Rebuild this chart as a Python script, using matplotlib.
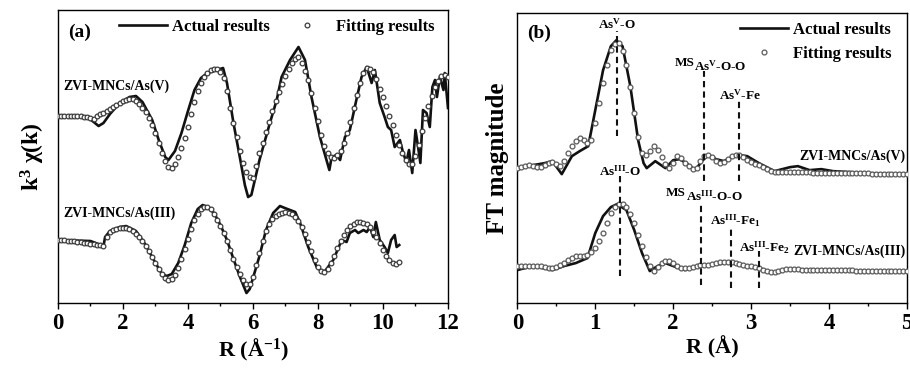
import numpy as np
import matplotlib.pyplot as plt
from matplotlib.lines import Line2D

plt.rcParams['font.family'] = ['Liberation Serif', 'DejaVu Serif']
plt.rcParams['font.weight'] = 'bold'
plt.rcParams['axes.labelweight'] = 'bold'
plt.rcParams['mathtext.fontset'] = 'custom'
plt.rcParams['mathtext.rm'] = 'Liberation Serif:bold'
plt.rcParams['mathtext.it'] = 'Liberation Serif:bold'
plt.rcParams['mathtext.bf'] = 'Liberation Serif:bold'

# ---------------- (a) k-space, arbitrary units ----------------
k_act_v = [0, 0.9, 1.1, 1.25, 1.4, 1.6, 1.9, 2.2, 2.4, 2.6, 2.9, 3.1, 3.3, 3.4, 3.6, 3.8, 4.0, 4.2,
           4.4, 4.6, 4.8, 5.08, 5.2, 5.4, 5.6, 5.75, 5.85, 5.95, 6.2, 6.52, 6.73, 6.88, 7.14, 7.4,
           7.6, 7.8, 8.06, 8.2, 8.35, 8.42, 8.58, 8.68, 8.83, 8.98, 9.18, 9.34, 9.5, 9.65, 9.75,
           9.9, 10.05, 10.15, 10.25, 10.36, 10.52, 10.62, 10.72, 10.8, 10.9, 11.0, 11.08, 11.15,
           11.23, 11.34, 11.44, 11.52, 11.6, 11.66, 11.75, 11.86, 11.9, 12.0]
chi_act_v = [187, 186, 181, 177, 180, 189, 200, 206, 207, 201, 183, 163, 146, 143, 152, 170, 192, 213,
             225, 230, 232, 235, 220, 180, 145, 118, 106, 108, 143, 180, 203, 226, 243, 256,
             243, 206, 166, 150, 133, 146, 148, 143, 166, 173, 203, 226, 236, 220, 233,
             200, 186, 176, 173, 156, 163, 150, 141, 153, 130, 173, 156, 140,
             193, 190, 176, 216, 223, 206, 226, 213, 230, 195]

# fitting, k = 0 ... 12 step 0.1
chi_fit_v = [187, 187, 187, 187, 187, 187, 187, 187, 186, 186,
             185, 184, 187, 189, 190, 192, 194, 196, 198, 200,
             202, 203, 204, 204, 202, 199, 195, 191, 185, 178,
             170, 160, 150, 142, 136, 135, 139, 146, 155, 165,
             176, 189, 201, 212, 220, 226, 230, 233, 234, 234,
             231, 225, 212, 195, 180, 166, 152, 140, 131, 126,
             125, 137, 150, 160, 171, 181, 192, 202, 211, 219,
             227, 234, 240, 244, 246, 240, 232, 223, 210, 195,
             182, 168, 157, 150, 146, 145, 148, 152, 160, 170,
             181, 195, 208, 220, 230, 235, 234, 231, 224, 214,
             206, 197, 187, 178, 168, 158, 150, 143, 139, 139,
             147, 158, 172, 185, 197, 207, 216, 222, 227, 228, 226]

k_act_3 = [0, 1.0, 1.4, 1.45, 1.6, 1.9, 2.1, 2.4, 2.7, 3.0, 3.2, 3.35, 3.5, 3.7, 3.9, 4.1, 4.3, 4.45,
           4.6, 4.8, 5.0, 5.2, 5.4, 5.6, 5.8, 5.9, 6.2, 6.4, 6.62, 6.83, 6.98, 7.14, 7.3, 7.45, 7.7,
           7.96, 8.17, 8.47, 8.73, 8.88, 8.98, 9.14, 9.24, 9.4, 9.5, 9.6, 9.7, 9.78, 9.9, 10.05,
           10.15, 10.25, 10.36, 10.42, 10.5]
chi_act_3 = [63, 62, 57, 66, 72, 76, 77, 72, 58, 40, 29, 27, 29, 40, 58, 80, 94, 98,
             96, 90, 78, 63, 44, 26, 10, 14, 47, 73, 90, 97, 95, 93, 91, 80, 56,
             36, 30, 43, 63, 61, 70, 73, 70, 73, 71, 76, 66, 81, 63, 56,
             50, 63, 68, 56, 58]

# fitting, k = 0 ... 10.5 step 0.1
chi_fit_3 = [63, 63, 63, 62, 62, 62, 61, 61, 60, 60,
             59, 59, 58, 58, 57, 66, 71, 73, 74, 75,
             75, 75, 74, 72, 69, 66, 62, 57, 52, 46,
             40, 34, 29, 25, 23, 24, 28, 35, 44, 54,
             64, 74, 83, 89, 94, 96, 96, 94, 89, 83,
             77, 70, 62, 53, 44, 36, 29, 23, 19, 19,
             26, 38, 50, 62, 72, 79, 84, 87, 89, 90,
             91, 90, 89, 86, 82, 76, 69, 61, 52, 43,
             36, 32, 31, 34, 40, 47, 55, 62, 68, 73,
             77, 79, 81, 81, 80, 79, 76, 71, 66, 60,
             53, 47, 43, 40, 39, 41]

# ---------------- (b) R-space, arbitrary units ----------------
r_act_v = [0, 0.1, 0.2, 0.35, 0.45, 0.57, 0.7, 0.8, 0.91, 1.0, 1.1, 1.2, 1.27, 1.35, 1.45, 1.55,
           1.62, 1.66, 1.77, 1.9, 2.0, 2.08, 2.17, 2.28, 2.38, 2.45, 2.55, 2.65, 2.75, 2.85,
           2.95, 3.1, 3.3, 3.5, 3.6, 3.75, 3.9, 4.05, 4.5, 5.0]
ft_act_v = [133, 137, 138, 140, 142, 129, 147, 152, 157, 193, 233, 257, 263, 257, 217, 163,
            140, 135, 142, 135, 143, 144, 140, 133, 143, 148, 144, 142, 146, 148,
            147, 140, 132, 136, 137, 133, 134, 132, 130, 129]

# fitting, R = 0 ... 5 step 0.05
ft_fit_v = [135, 136, 137, 138, 137, 136, 136, 138, 140, 141,
            139, 137, 142, 150, 157, 162, 165, 163, 160, 163,
            180, 200, 220, 238, 253, 259, 260, 252, 238, 216,
            190, 166, 150, 148, 152, 157, 153, 146, 139, 135,
            140, 147, 145, 140, 137, 134, 135, 142, 147, 148,
            146, 142, 140, 141, 144, 147, 148, 148, 146, 143,
            141, 139, 138, 136, 134, 132, 131, 131, 131, 131,
            131, 131, 131, 131, 131, 131, 130, 130, 130, 130,
            130, 130, 130, 130, 130, 130, 130, 130, 130, 130,
            130, 129, 129, 129, 129, 129, 129, 129, 129, 129, 129]

r_act_3 = [0, 0.2, 0.45, 0.6, 0.75, 0.9, 1.0, 1.1, 1.2, 1.28, 1.4, 1.5, 1.6, 1.7, 1.8, 1.9, 2.0,
           2.15, 2.3, 2.45, 2.6, 2.75, 2.9, 3.1, 3.3, 3.5, 4.0, 5.0]
ft_act_3 = [33, 37, 33, 37, 40, 45, 70, 87, 96, 99, 93, 73, 50, 32, 37, 40, 37,
            33, 37, 38, 39, 42, 38, 35, 30, 34, 33, 31]

ft_fit_3 = [37, 37, 37, 37, 37, 37, 37, 36, 35, 35,
            36, 38, 40, 43, 45, 47, 47, 47, 48, 51,
            55, 62, 70, 80, 90, 96, 99, 99, 96, 89,
            80, 68, 57, 46, 37, 32, 36, 40, 42, 42,
            40, 37, 35, 35, 35, 36, 37, 38, 38, 38,
            39, 40, 41, 41, 41, 41, 40, 39, 38, 37,
            37, 36, 35, 33, 32, 31, 31, 32, 33, 34,
            34, 34, 34, 33, 33, 33, 33, 33, 33, 33,
            33, 33, 33, 33, 33, 33, 33, 32, 32, 32,
            32, 32, 32, 32, 32, 32, 32, 32, 32, 32, 32]

# peak assignments (R, top, bottom of dashed marker)
peak_r = [1.276, 2.40, 2.85, 1.32, 2.355, 2.74, 3.095]
peak_top = [272, 232, 203, 127, 100, 77, 52]
peak_bot = [167, 122, 122, 27, 18, 15, 15]

k_fit_v = np.linspace(0, 12, len(chi_fit_v))
k_fit_3 = np.linspace(0, 10.5, len(chi_fit_3))
r_fit = np.linspace(0, 5, len(ft_fit_v))

fig = plt.figure(figsize=(9.1, 3.7), dpi=100)
ax1 = fig.add_axes([0.0637, 0.181, 0.4286, 0.792])
ax2 = fig.add_axes([0.5685, 0.181, 0.4282, 0.785])

line_kw = dict(color='#111111', lw=1.9, zorder=2)
fit_kw_a = dict(ls='none', marker='o', ms=3.4, mfc='white', mec='#3c3c3c', mew=0.9, zorder=3)
fit_kw_b = dict(ls='none', marker='o', ms=3.5, mfc='white', mec='#5a5a5a', mew=0.9, zorder=3)

# ---- panel (a)
ax1.plot(k_act_v, chi_act_v, **line_kw)
ax1.plot(k_fit_v, chi_fit_v, **fit_kw_a)
ax1.plot(k_act_3, chi_act_3, **line_kw)
ax1.plot(k_fit_3, chi_fit_3, **fit_kw_a)
ax1.set_xlim(0, 12)
ax1.set_ylim(0, 293)
ax1.set_xticks(np.arange(0, 13, 2))
ax1.set_xticks(np.arange(1, 12, 2), minor=True)
ax1.set_yticks([])
ax1.set_xlabel('R (Å$^{-1}$)', fontsize=16, labelpad=2)
ax1.set_ylabel('k$^{3}$ χ(k)', fontsize=17, labelpad=8)
ax1.text(0.32, 271, '(a)', fontsize=14, va='center')
ax1.text(0.16, 217, 'ZVI-MNCs/As(V)', fontsize=10, va='center')
ax1.text(0.16, 90, 'ZVI-MNCs/As(III)', fontsize=10, va='center')

h_act = Line2D([], [], **{k: v for k, v in line_kw.items() if k != 'zorder'})
h_fit_a = Line2D([], [], **{k: v for k, v in fit_kw_a.items() if k != 'zorder'})
h_fit_b = Line2D([], [], **{k: v for k, v in fit_kw_b.items() if k != 'zorder'})
ax1.legend([h_act, h_fit_a], ['Actual results', 'Fitting results'], ncol=2, frameon=False,
           loc='upper right', bbox_to_anchor=(1.005, 1.02), fontsize=12, handlelength=2.9,
           handletextpad=0.3, columnspacing=0.8, numpoints=1)

# ---- panel (b)
ax2.plot(r_act_v, ft_act_v, **line_kw)
ax2.plot(r_fit, ft_fit_v, **fit_kw_b)
ax2.plot(r_act_3, ft_act_3, **line_kw)
ax2.plot(r_fit, ft_fit_3, **fit_kw_b)
ax2.vlines(peak_r, peak_bot, peak_top, colors='#111111', linestyles=(0, (3, 2)), lw=1.5, zorder=4)
ax2.set_xlim(0, 5)
ax2.set_ylim(0, 290.7)
ax2.set_xticks(np.arange(0, 6, 1))
ax2.set_xticks(np.arange(0.5, 5, 1), minor=True)
ax2.set_yticks([])
ax2.set_xlabel('R (Å)', fontsize=16, labelpad=2)
ax2.set_ylabel('FT magnitude', fontsize=18, labelpad=6)
ax2.text(0.12, 270, '(b)', fontsize=14, va='center')

ann = dict(fontsize=9.5, ha='center', va='center')
ax2.text(1.276, 279, 'As$^{V}$-O', **ann)
ax2.text(2.86, 208, 'As$^{V}$-Fe', **ann)
ax2.text(1.32, 132, 'As$^{III}$-O', **ann)
ax2.text(2.80, 82, 'As$^{III}$-Fe$_{1}$', **ann)
ax2.text(3.17, 55, 'As$^{III}$-Fe$_{2}$', **ann)
# multiple-scattering labels: "MS" raised, "As..." lowered
ax2.text(2.27, 237, 'MS', fontsize=9.5, ha='right', va='baseline')
ax2.text(2.27, 233, 'As$^{V}$-O-O', fontsize=9.5, ha='left', va='baseline')
ax2.text(2.165, 107, 'MS', fontsize=9.5, ha='right', va='baseline')
ax2.text(2.165, 103, 'As$^{III}$-O-O', fontsize=9.5, ha='left', va='baseline')
ax2.text(4.98, 147, 'ZVI-MNCs/As(V)', fontsize=10, ha='right', va='center')
ax2.text(4.98, 52, 'ZVI-MNCs/As(III)', fontsize=10, ha='right', va='center')

ax2.legend([h_act, h_fit_b], ['Actual results', 'Fitting results'], frameon=False,
           loc='upper right', bbox_to_anchor=(1.0, 1.02), fontsize=12, handlelength=2.9,
           handletextpad=0.3, labelspacing=0.5, numpoints=1)

for ax in (ax1, ax2):
    for s in ax.spines.values():
        s.set_linewidth(1.0)
    ax.tick_params(axis='x', which='major', direction='out', length=4, width=1,
                   labelsize=16.5, pad=3)
    ax.tick_params(axis='x', which='minor', direction='out', length=2.5, width=1)

fig.savefig('out.png', dpi=100)
